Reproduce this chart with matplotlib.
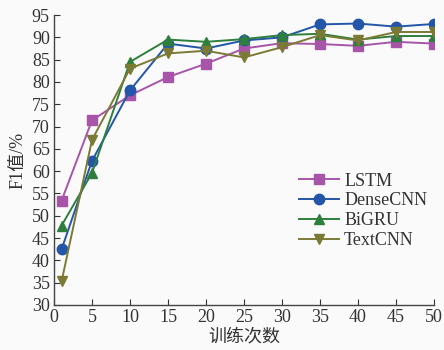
import matplotlib
matplotlib.use('Agg')
from matplotlib import pyplot as plt

plt.rcParams['font.family'] = ['Liberation Serif', 'Noto Sans CJK SC']
plt.rcParams['mathtext.fontset'] = 'stix'

epochs = [1, 5, 10, 15, 20, 25, 30, 35, 40, 45, 50]
lstm = [53.4, 71.4, 77.0, 81.1, 84.1, 87.5, 88.7, 88.5, 88.1, 89.0, 88.6]
dense_cnn = [42.5, 62.3, 78.1, 88.6, 87.5, 89.3, 90.0, 92.9, 93.1, 92.4, 93.0]
bigru = [47.8, 59.6, 84.5, 89.5, 89.0, 89.6, 90.5, 90.8, 89.5, 90.3, 90.3]
text_cnn = [35.3, 67.0, 83.0, 86.4, 87.0, 85.5, 87.8, 90.5, 89.3, 91.2, 91.2]

series = [
    ('LSTM', lstm, '#a655a8', 's'),
    ('DenseCNN', dense_cnn, '#2356a8', 'o'),
    ('BiGRU', bigru, '#2f7f3c', '^'),
    ('TextCNN', text_cnn, '#7b7a35', 'v'),
]

fig = plt.figure(figsize=(4.44, 3.5), dpi=100, facecolor='#fafafa')
ax = fig.add_axes([0.1216, 0.1286, 0.8559, 0.8284])
ax.set_facecolor('#fafafa')

for name, vals, col, mk in series:
    ax.plot(epochs, vals, color=col, marker=mk, markersize=7.5, linewidth=1.4, label=name)

ax.set_xlim(0, 50)
ax.set_ylim(30, 95)
ax.set_xticks(range(0, 51, 5))
ax.set_yticks(range(30, 96, 5))
ax.spines['top'].set_visible(False)
ax.spines['right'].set_visible(False)
for s in ['left', 'bottom']:
    ax.spines[s].set_color('#444444')
    ax.spines[s].set_linewidth(1.0)
ax.tick_params(direction='in', length=4, labelsize=13, colors='#333333', pad=3)

ax.set_xlabel('训练次数', fontsize=13, color='#333333', labelpad=2)
ax.set_ylabel('F1值/%', fontsize=13, color='#333333', labelpad=4)

leg = ax.legend(loc='center right', bbox_to_anchor=(1.015, 0.325), frameon=False, fontsize=13,
                handlelength=2.2, handletextpad=0.3, labelspacing=0.15, borderpad=0.2)
for t in leg.get_texts():
    t.set_color('#333333')

fig.savefig('out.png', dpi=100, facecolor=fig.get_facecolor())
